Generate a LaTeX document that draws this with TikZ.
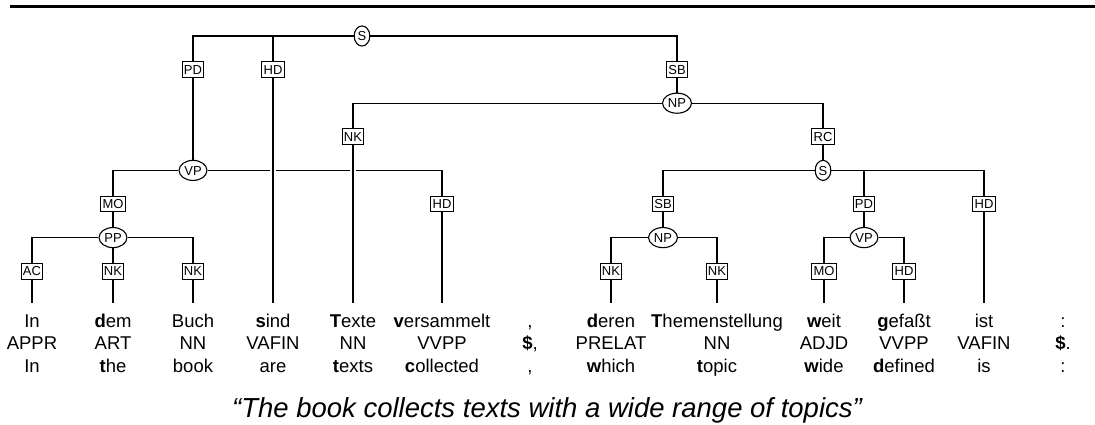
\documentclass[tikz,border=0pt]{standalone}
\usepackage{fontspec}
\setmainfont{Liberation Sans}
\usetikzlibrary{shapes.geometric}
\newcommand\mkcol[5]{%
  \node[wrd] (w#1) at (#2,327) {#3};
  \node[wrd] (p#1) at (#2,349.5) {#4};
  \node[wrd] (g#1) at (#2,372) {#5};
  \coordinate (t#1) at (#2,303);
}
\tikzset{
  lab/.style={draw, fill=white, line width=1.1pt, font=\fontsize{13}{14}\selectfont,
    inner xsep=1.8pt, inner ysep=3.2pt, text height=9.4pt, text depth=0pt},
  cat/.style={draw, fill=white, ellipse, line width=1.1pt, font=\fontsize{13}{14}\selectfont,
    inner xsep=1.2pt, inner ysep=2.4pt, text height=9.4pt, text depth=0pt},
  conn/.style={line width=1.2pt},
  cross/.style={line width=1.2pt, preaction={draw=white, line width=6pt}},
  wrd/.style={anchor=base, font=\fontsize{18.5}{22}\selectfont, inner sep=0pt},
}
\begin{document}
\begin{tikzpicture}[x=1pt,y=-1pt]
\useasboundingbox (0,0) rectangle (1095,425);
\coordinate (ruleL) at (10,7);
\coordinate (ruleR) at (1095,7);
\draw[line width=3pt] (ruleL) -- (ruleR);
% levels
\def\La{36}\def\Lb{69.6}\def\Lc{103.2}\def\Ld{136.8}
\def\Le{170.4}\def\Lf{204}\def\Lg{237.6}\def\Lh{271.2}
\node[cat] (S0) at (362,\La) {S};
\node[lab] (PD0) at (193,\Lb) {PD};
\node[lab] (HD0) at (273,\Lb) {HD};
\node[lab] (SB0) at (677,\Lb) {SB};
\node[cat] (NP0) at (677,\Lc) {NP};
\node[lab] (NK0) at (353,\Ld) {NK};
\node[lab] (RC) at (823,\Ld) {RC};
\node[cat] (VP0) at (193,\Le) {VP};
\node[cat] (S1) at (823,\Le) {S};
\node[lab] (MO0) at (113,\Lf) {MO};
\node[lab] (HD1) at (442,\Lf) {HD};
\node[lab] (SB1) at (663,\Lf) {SB};
\node[lab] (PD1) at (864,\Lf) {PD};
\node[lab] (HD2) at (984,\Lf) {HD};
\node[cat] (PP) at (113,\Lg) {PP};
\node[cat] (NP1) at (663,\Lg) {NP};
\node[cat] (VP1) at (864,\Lg) {VP};
\node[lab] (AC) at (32,\Lh) {AC};
\node[lab] (NK1) at (113,\Lh) {NK};
\node[lab] (NK2) at (193,\Lh) {NK};
\node[lab] (NK3) at (611,\Lh) {NK};
\node[lab] (NK4) at (717,\Lh) {NK};
\node[lab] (MO1) at (824,\Lh) {MO};
\node[lab] (HD3) at (904,\Lh) {HD};
% words
\mkcol{1}{32}{In}{APPR}{In}
\mkcol{2}{113}{\textbf{d}em}{ART}{\textbf{t}he}
\mkcol{3}{193}{Buch}{NN}{book}
\mkcol{4}{273}{\textbf{s}ind}{VAFIN}{are}
\mkcol{5}{353}{\textbf{T}exte}{NN}{\textbf{t}exts}
\mkcol{6}{442}{\textbf{v}ersammelt}{VVPP}{\textbf{c}ollected}
\mkcol{7}{530}{,}{\textbf{\$},}{,}
\mkcol{8}{611}{\textbf{d}eren}{PRELAT}{\textbf{w}hich}
\mkcol{9}{717}{\textbf{T}hemenstellung}{NN}{\textbf{t}opic}
\mkcol{10}{824}{\textbf{w}eit}{ADJD}{\textbf{w}ide}
\mkcol{11}{904}{\textbf{g}efaßt}{VVPP}{\textbf{d}efined}
\mkcol{12}{984}{ist}{VAFIN}{is}
\mkcol{13}{1063}{:}{\textbf{\$}.}{:}
% connectors
\draw[conn] (S0.west) -| (PD0.north);
\draw[conn] (S0.west) -| (HD0.north);
\draw[conn] (S0.east) -| (SB0.north);
\draw[conn] (SB0.south) -- (NP0.north);
\draw[conn] (NP0.west) -| (NK0.north);
\draw[conn] (NP0.east) -| (RC.north);
\draw[conn] (RC.south) -- (S1.north);
\draw[conn] (PD0.south) -- (VP0.north);
\draw[conn] (VP0.west) -| (MO0.north);
\draw[conn] (VP0.east) -| (HD1.north);
\draw[conn] (MO0.south) -- (PP.north);
\draw[conn] (PP.west) -| (AC.north);
\draw[conn] (PP.south) -- (NK1.north);
\draw[conn] (PP.east) -| (NK2.north);
\draw[conn] (S1.west) -| (SB1.north);
\draw[conn] (S1.east) -| (PD1.north);
\draw[conn] (S1.east) -| (HD2.north);
\draw[conn] (SB1.south) -- (NP1.north);
\draw[conn] (PD1.south) -- (VP1.north);
\draw[conn] (NP1.west) -| (NK3.north);
\draw[conn] (NP1.east) -| (NK4.north);
\draw[conn] (VP1.west) -| (MO1.north);
\draw[conn] (VP1.east) -| (HD3.north);
% to terminals
\draw[cross] (HD0.south) -- (t4);
\draw[cross] (NK0.south) -- (t5);
\draw[conn] (AC.south) -- (t1);
\draw[conn] (NK1.south) -- (t2);
\draw[conn] (NK2.south) -- (t3);
\draw[conn] (HD1.south) -- (t6);
\draw[conn] (NK3.south) -- (t8);
\draw[conn] (NK4.south) -- (t9);
\draw[conn] (MO1.south) -- (t10);
\draw[conn] (HD3.south) -- (t11);
\draw[conn] (HD2.south) -- (t12);
% caption
\node[anchor=base, font=\fontsize{27.5}{30}\selectfont\itshape, inner sep=0pt] (cap) at (547,417) {“The book collects texts with a wide range of topics”};
\end{tikzpicture}
\end{document}
